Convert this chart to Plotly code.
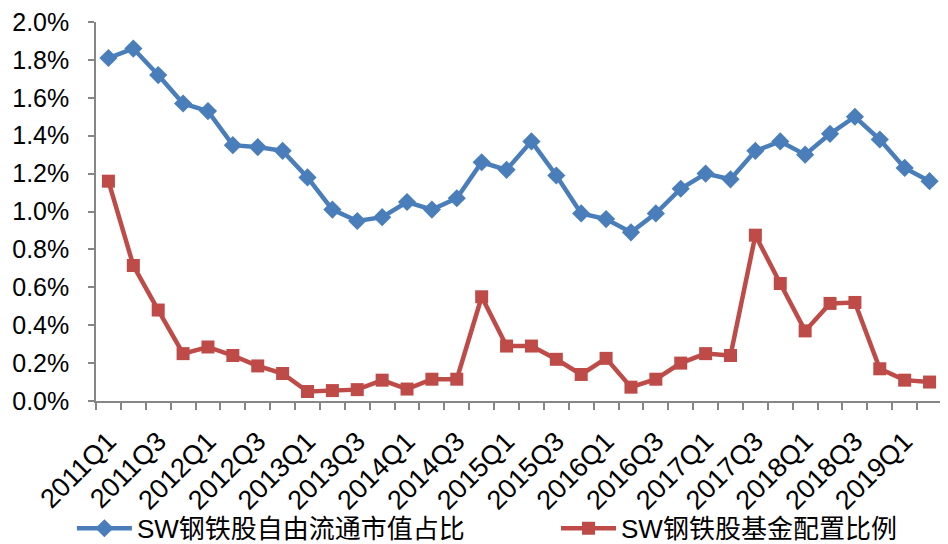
import plotly.graph_objects as go

quarters = [f"{y}Q{q}" for y in range(2011, 2020) for q in range(1, 5)][:34]
free_float_share = [1.81, 1.86, 1.72, 1.57, 1.53, 1.35, 1.34, 1.32, 1.18, 1.01,
                    0.95, 0.97, 1.05, 1.01, 1.07, 1.26, 1.22, 1.37, 1.19, 0.99,
                    0.96, 0.89, 0.99, 1.12, 1.20, 1.17, 1.32, 1.37, 1.30, 1.41,
                    1.50, 1.38, 1.23, 1.16]
fund_alloc = [1.16, 0.715, 0.48, 0.25, 0.285, 0.24, 0.185, 0.145, 0.05, 0.055,
              0.06, 0.11, 0.063, 0.115, 0.115, 0.55, 0.29, 0.29, 0.22, 0.14,
              0.225, 0.073, 0.115, 0.20, 0.25, 0.24, 0.875, 0.62, 0.37, 0.515,
              0.52, 0.17, 0.11, 0.10]
y_ticks = [0.0, 0.2, 0.4, 0.6, 0.8, 1.0, 1.2, 1.4, 1.6, 1.8, 2.0]
name1 = "SW钢铁股自由流通市值占比"
name2 = "SW钢铁股基金配置比例"
tick_text = [q if i % 2 == 0 else "" for i, q in enumerate(quarters)]

fig = go.Figure()
fig.add_trace(go.Scatter(
    x=quarters, y=[v / 100 for v in free_float_share], name=name1,
    mode="lines+markers", legend="legend",
    line=dict(color="#4A7EBB", width=4.5),
    marker=dict(symbol="diamond", size=14, color="#4A7EBB"),
))
fig.add_trace(go.Scatter(
    x=quarters, y=[v / 100 for v in fund_alloc], name=name2,
    mode="lines+markers", legend="legend2",
    line=dict(color="#BE4B48", width=4.5),
    marker=dict(symbol="square", size=13, color="#BE4B48"),
))

font_main = "Liberation Sans, Arial, Noto Sans CJK SC, sans-serif"
legend_common = dict(
    orientation="h", xref="container", yref="container",
    xanchor="left", yanchor="top",
    font=dict(family=font_main, size=26),
    itemwidth=55, bgcolor="rgba(0,0,0,0)",
)
fig.update_layout(
    width=940, height=536,
    margin=dict(l=88, r=6, t=14, b=143, autoexpand=False),
    paper_bgcolor="white", plot_bgcolor="white",
    font=dict(family=font_main, size=25, color="black"),
    showlegend=True,
    legend=dict(x=0.068, y=0.073, **legend_common),
    legend2=dict(x=0.583, y=0.073, **legend_common),
    xaxis=dict(
        type="category", range=[-0.5, len(quarters) - 0.5],
        tickmode="array", tickvals=quarters, ticktext=tick_text,
        tickangle=-45, tickson="boundaries", automargin=False,
        ticks="outside", ticklen=7, tickcolor="#868686", tickwidth=1.5,
        showline=True, linecolor="#868686", linewidth=1.5,
        showgrid=False, zeroline=False, ticklabelstandoff=12,
        tickfont=dict(size=27),
    ),
    yaxis=dict(
        range=[0, 0.02], tickmode="array",
        tickvals=[t / 100 for t in y_ticks],
        ticktext=[f"{t:.1f}%" for t in y_ticks], automargin=False,
        ticklabeloverflow="allow",
        ticks="outside", ticklen=6, tickcolor="#868686", tickwidth=1.5,
        showline=True, linecolor="#868686", linewidth=1.5,
        showgrid=False, zeroline=False, ticklabelstandoff=14,
        tickfont=dict(size=25),
    ),
)

fig.write_html("out.html")
